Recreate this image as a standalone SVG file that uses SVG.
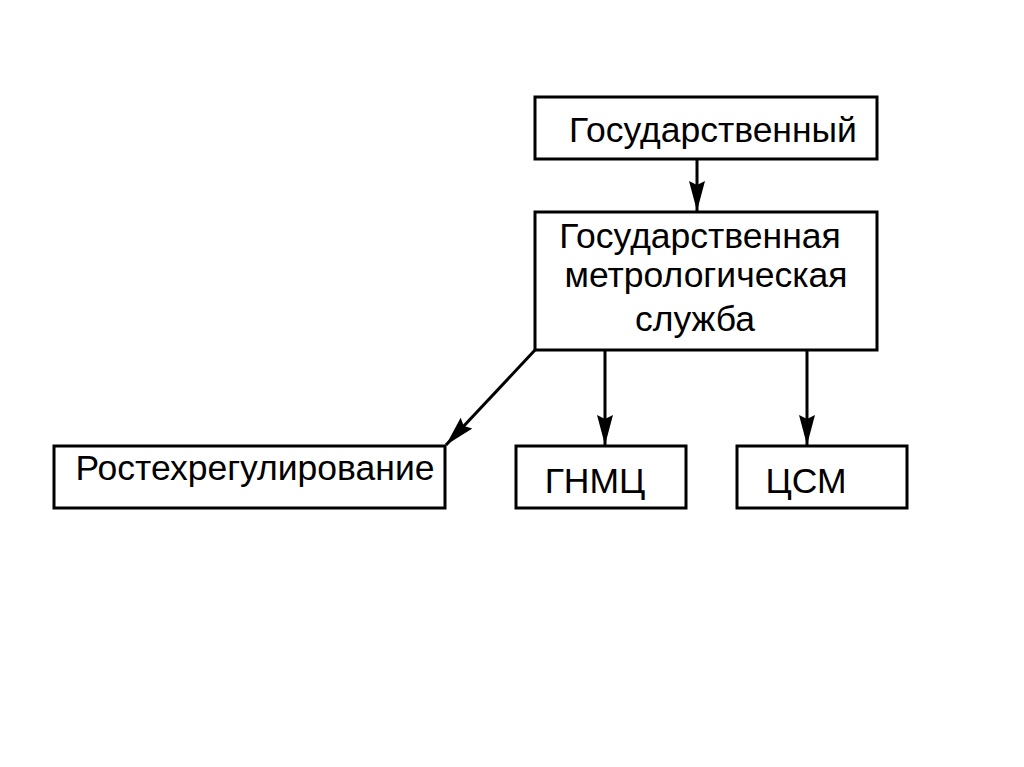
<svg xmlns="http://www.w3.org/2000/svg" width="1024" height="767" viewBox="0 0 1024 767">
<style>
.box{fill:#fff;stroke:#000;stroke-width:3}
.t{font-family:"Liberation Sans",Arial,sans-serif;font-size:35.5px;fill:#000}
.c{fill:none;stroke:#000;stroke-width:3}
</style>
<defs>
<marker id="ah" markerUnits="userSpaceOnUse" markerWidth="34" markerHeight="22" refX="30" refY="9" orient="auto">
<polygon points="0,1 30,9 0,17 4,9" fill="#000"/>
</marker>
</defs>
<rect width="1024" height="767" fill="#fff"/>
<g id="connectors">
<line class="c" x1="697" y1="159" x2="697" y2="211" marker-end="url(#ah)"/>
<line class="c" x1="605" y1="350" x2="605" y2="445" marker-end="url(#ah)"/>
<line class="c" x1="807" y1="350" x2="807" y2="445" marker-end="url(#ah)"/>
<line class="c" x1="535" y1="350" x2="446" y2="445" marker-end="url(#ah)"/>
</g>
<g id="gos">
<rect class="box" x="535" y="97" width="342" height="62"/>
<text class="t" x="713" y="142" text-anchor="middle">Государственный</text>
</g>
<g id="gms">
<rect class="box" x="535" y="212" width="342" height="138"/>
<text class="t" x="700" y="248" text-anchor="middle">Государственная</text>
<text class="t" x="706" y="287" text-anchor="middle">метрологическая</text>
<text class="t" x="695" y="331" text-anchor="middle">служба</text>
</g>
<g id="rst">
<rect class="box" x="54" y="446" width="391" height="62"/>
<text class="t" x="255" y="480" text-anchor="middle">Ростехрегулирование</text>
</g>
<g id="gnmc">
<rect class="box" x="516" y="446" width="170" height="62"/>
<text class="t" x="595" y="493" text-anchor="middle">ГНМЦ</text>
</g>
<g id="csm">
<rect class="box" x="737" y="446" width="170" height="62"/>
<text class="t" x="806" y="493" text-anchor="middle">ЦСМ</text>
</g>
</svg>
